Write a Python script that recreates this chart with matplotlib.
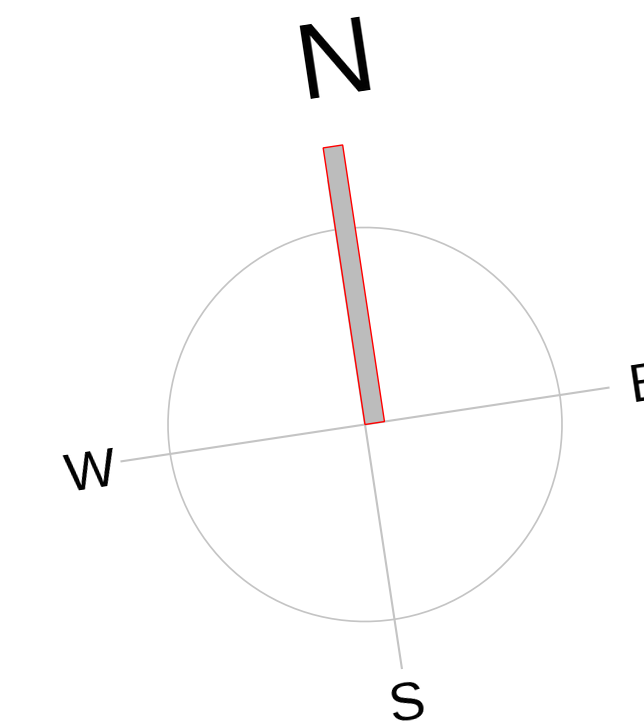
import matplotlib
matplotlib.use("Agg")
import matplotlib.pyplot as plt
import matplotlib.patches as mpatches
from matplotlib.transforms import Affine2D
import numpy as np

# ---- data ----
directions = ["N", "E", "S", "W"]
direction_angles = [0, 90, 180, 270]        # compass degrees
bar_angles = [0]                            # compass degrees
bar_values = [1.42]                         # radial length (circle radius = 1)
bar_widths = [0.10]
rotation_deg = 8.6                          # whole compass rotated

# ---- style ----
grid_color = "#c4c4c4"
bar_face = "#bcbcbc"
bar_edge = "#ff0000"
axis_len = 1.25

fig = plt.figure(figsize=(6.44, 7.28), dpi=100)
ax = fig.add_axes([0, 0, 1, 1])
ax.set_aspect("equal")
cx_px, cy_px, r_px = 365.0, 424.5, 197.0
ax.set_xlim(-cx_px / r_px, (644 - cx_px) / r_px)
ax.set_ylim(-(728 - cy_px) / r_px, cy_px / r_px)
ax.axis("off")

rot = Affine2D().rotate_deg(rotation_deg) + ax.transData

# circle
ax.add_patch(mpatches.Circle((0, 0), 1.0, fill=False, ec=grid_color, lw=1.2, transform=rot))

# axis lines (compass angle -> math angle)
for a in direction_angles:
    t = np.deg2rad(90 - a)
    ax.plot([0, axis_len * np.cos(t)], [0, axis_len * np.sin(t)],
            color=grid_color, lw=1.5, transform=rot, zorder=1)

# bars
for a, v, w in zip(bar_angles, bar_values, bar_widths):
    tr = Affine2D().rotate_deg(-a) + rot
    ax.add_patch(mpatches.Rectangle((0, 0), w, v, fc=bar_face, ec=bar_edge,
                                    lw=1.0, transform=tr, zorder=3))

# labels
label_pos = {"N": (0.127, 1.68), "E": (1.445, -0.09), "S": (0.0, -1.515), "W": (-1.415, -0.115)}
label_size = {"N": 78, "E": 39, "S": 39, "W": 39}
for d in directions:
    x, y = label_pos[d]
    ax.text(x, y, d, transform=rot, rotation=rotation_deg, rotation_mode="anchor",
            ha="center", va="baseline", fontsize=label_size[d],
            fontfamily="Liberation Sans", color="black", zorder=4)

fig.savefig("out.png", dpi=100)
